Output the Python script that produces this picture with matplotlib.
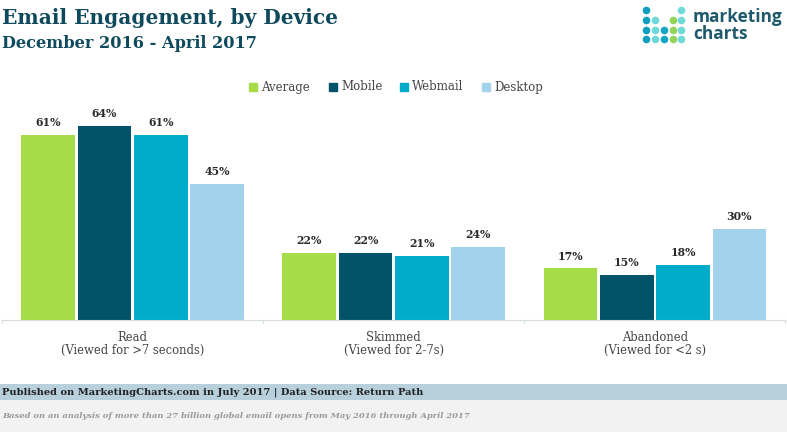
import numpy as np
import matplotlib
matplotlib.use('Agg')
import matplotlib.pyplot as plt
from matplotlib.patches import Rectangle

W, H = 787, 432
categories = ['Read\n(Viewed for >7 seconds)', 'Skimmed\n(Viewed for 2-7s)', 'Abandoned\n(Viewed for <2 s)']
average = [61, 22, 17]
mobile = [64, 22, 15]
webmail = [61, 21, 18]
desktop = [45, 24, 30]
series_names = ['Average', 'Mobile', 'Webmail', 'Desktop']
colors = ['#a5dc48', '#01536a', '#00acc9', '#a2d2ec']

plt.rcParams['font.family'] = ['DejaVu Serif']

def px(x, y):
    # pixel position from top left to figure fraction
    return x / W, 1 - y / H

fig = plt.figure(figsize=(W / 100, H / 100), dpi=100)

# chart area
ax = fig.add_axes([2 / W, 1 - 320 / H, 783.5 / W, 220 / H])
x = np.arange(3)
pitch = 0.2157
for i, vals in enumerate([average, mobile, webmail, desktop]):
    bars = ax.bar(x + (i - 1.5) * pitch, vals, width=0.205, color=colors[i], label=series_names[i])
    for b, v in zip(bars, vals):
        ax.text(b.get_x() + b.get_width() / 2, v + 2.3, f'{v}%', ha='center', va='bottom',
                fontsize=7.8, fontweight='bold', color='#2a2a2a')
ax.set_xlim(-0.5, 2.5)
ax.set_ylim(0, 220 / 3.03)
ax.set_yticks([])
for s in ['top', 'left', 'right']:
    ax.spines[s].set_visible(False)
ax.spines['bottom'].set_color('#d5dde0')
ax.set_xticks(x, categories)
ax.tick_params(axis='x', length=0, pad=8, labelsize=8.3, labelcolor='#444444')
for lab in ax.get_xticklabels():
    lab.set_linespacing(1.0)
for t in [-0.5, 0.5, 1.5, 2.5]:
    ax.plot([t, t], [0, -1], color='#d5dde0', lw=0.8, clip_on=False)

# legend
legend_x = [249, 329, 400, 482]
for name, c, lx in zip(series_names, colors, legend_x):
    fig.patches.append(Rectangle(px(lx, 91), 8 / W, 8 / H, transform=fig.transFigure, color=c))
    fig.text(*px(lx + 12, 87), name, fontsize=8.5, color='#444444', va='center', ha='left')

# titles
fig.text(*px(2, 18), 'Email Engagement, by Device', fontsize=14.5, fontweight='bold', color='#0f4a5c', va='center')
fig.text(*px(2, 43), 'December 2016 - April 2017', fontsize=11.6, fontweight='bold', color='#0f4a5c', va='center')

# logo
logo_x = [646, 655, 664, 673, 681]
logo_y = [10, 20, 30, 39]
logo_rows = [[0, 4], [0, 1, 3, 4], [0, 1, 2, 3, 4], [0, 1, 2, 3, 4]]
logo_colors = ['#0e9fc0', '#6fd8d8', '#12a5c5', '#93d45a', '#6fdad8']
overlay = fig.add_axes([0, 0, 1, 1], facecolor='none')
overlay.set_xlim(0, W)
overlay.set_ylim(H, 0)
overlay.axis('off')
for row, cols in zip(logo_y, logo_rows):
    for c in cols:
        overlay.scatter(logo_x[c], row, s=30, color=logo_colors[c], linewidths=0)
fig.text(*px(693, 17), 'marketing', fontsize=12.4, fontweight='bold', family='Open Sans', color='#1f5a6c', va='center')
fig.text(*px(693, 34), 'charts', fontsize=12.4, fontweight='bold', family='Open Sans', color='#1f5a6c', va='center')

# footer
overlay.add_patch(Rectangle((0, 384), W, 16, color='#b8d0dc', lw=0))
overlay.add_patch(Rectangle((0, 400), W, 32, color='#f2f2f2', lw=0))
overlay.text(2, 392, 'Published on MarketingCharts.com in July 2017 | Data Source: Return Path',
             fontsize=7.1, fontweight='bold', color='#222222', va='center')
overlay.text(2, 416, 'Based on an analysis of more than 27 billion global email opens from May 2016 through April 2017',
             fontsize=6.0, fontweight='bold', style='italic', color='#9a9a9a', va='center')

fig.savefig('out.png', dpi=100)
